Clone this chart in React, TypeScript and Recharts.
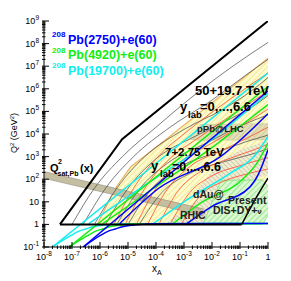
import React from 'react';
import { ComposedChart, Line, Area, XAxis, YAxis } from 'recharts';

type Pt = [number, number];

// all values are log10: [log10 x_A, log10 Q^2]

// 50+19.7 TeV kinematic boundary and y_lab lines
const lhecEdge: Pt[] = [[-7.43, 0], [-5.21, 3.77], [0, 9]];
const lhecFloor: Pt[] = [[-7.43, 0], [-0.94, 0]];
const lhecRight: Pt[] = [[-0.94, 0], [-0.4, 1.23], [0, 2.05]];
const lhecYlab: Pt[][] = [
  [[-7.0, 0], [-6.2, 1.6], [-5.2, 3.0], [-4.0, 4.3], [-2.5, 5.85], [-1.2, 7.05], [0, 8.05]],
  [[-6.6, 0], [-5.8, 1.6], [-4.8, 3.0], [-3.5, 4.3], [-2.0, 5.5], [-0.8, 6.6], [0, 7.3]],
  [[-6.2, 0], [-5.4, 1.6], [-4.4, 3.0], [-3.0, 4.2], [-1.6, 5.1], [-0.6, 5.9], [0, 6.5]],
  [[-5.8, 0], [-5.0, 1.6], [-4.0, 2.9], [-2.6, 3.9], [-1.3, 4.7], [-0.5, 5.25], [0, 5.7]],
  [[-5.4, 0], [-4.6, 1.55], [-3.6, 2.7], [-2.2, 3.6], [-1.0, 4.35], [0, 4.85]],
  [[-5.0, 0], [-4.2, 1.5], [-3.2, 2.5], [-1.8, 3.2], [-0.8, 3.65], [0, 3.95]],
  [[-4.6, 0], [-3.8, 1.4], [-2.8, 2.25], [-1.5, 2.8], [-0.6, 3.1], [0, 3.35]],
];

// 7+2.75 TeV region and y_lab lines
const lhcX = [-6.1, -5.45, -4.9, -4.0, -2.0, -0.94, -0.4, 0];
const lhcLow = [0, 0, 0, 0, 0, 0, 1.23, 2.05];
const lhcHigh = [0, 1.6, 2.55, 3.4, 5.38, 6.42, 6.96, 7.35];
const lhcYlab: Pt[][] = [
  [[-5.5, 0], [-4.8, 1.6], [-4.0, 2.9], [-2.8, 4.2], [-1.4, 5.5], [0, 6.7]],
  [[-5.1, 0], [-4.4, 1.6], [-3.6, 2.8], [-2.4, 3.9], [-1.1, 5.0], [0, 5.9]],
  [[-4.7, 0], [-4.0, 1.6], [-3.2, 2.7], [-2.0, 3.6], [-0.9, 4.4], [0, 5.1]],
  [[-4.3, 0], [-3.6, 1.55], [-2.8, 2.55], [-1.6, 3.3], [-0.7, 3.85], [0, 4.3]],
  [[-3.9, 0], [-3.2, 1.5], [-2.4, 2.35], [-1.3, 2.95], [-0.5, 3.3], [0, 3.55]],
  [[-3.5, 0], [-2.8, 1.4], [-2.0, 2.15], [-1.0, 2.6], [0, 2.95]],
  [[-3.1, 0], [-2.4, 1.3], [-1.6, 1.9], [-0.7, 2.25], [0, 2.45]],
];

// saturation scale band
const qsatX = [-8, -2.3];
const qsatLow = [2.04, 0.38];
const qsatHigh = [2.34, 0.68];

// pPb@LHC, dAu@RHIC and present data regions
const pPbX = [-2.8, -2.4, 0];
const pPbLow = [3.78, 3.72, 3.75];
const pPbHigh = [3.85, 4.42, 4.45];
const pPb2X = [-2.6, -1.8, -1.0, 0];
const pPb2Low = [1.3, 1.5, 1.85, 2.2];
const pPb2High = [1.4, 2.7, 3.3, 3.72];
const dAuX = [-3.6, -2.6, -1.9, -1.5];
const dAuLow = [0, 0, 0, 0.05];
const dAuHigh = [0.1, 1.0, 1.45, 1.6];
const presentX = [-2.32, -1.68, -0.2, 0];
const presentLow = [0, 0, 0, 0.4];
const presentHigh = [0, 1.95, 1.97, 1.7];

// eA configurations: upper limit, low-Q2 acceptance, and two inner lines
const cyanUp: Pt[] = [[-7.7, -1], [0, 6.7]];
const cyanLow: Pt[] = [[-7.7, -1], [-7.05, -0.5], [-6.75, -0.3], [-6.5, -0.2], [-6.25, -0.1], [-6.0, -0.05], [-5.65, 0], [-5.1, 0.03], [0, 0.04]];
const cyanMid: Pt[] = [[-6.4, 0.03], [-4.2, 1.9], [-2.5, 3.3], [0, 5.8]];
const cyanRight: Pt[] = [[-4.1, 0.03], [-3.0, 1.0], [-1.3, 2.3], [-0.5, 3.0], [0, 3.9]];

const greenUp: Pt[] = [[-7.1, -1], [0, 6.1]];
const greenLow: Pt[] = [[-7.1, -1], [-6.45, -0.5], [-6.15, -0.3], [-5.9, -0.2], [-5.65, -0.1], [-5.4, -0.05], [-5.05, 0], [-4.5, 0.03], [0, 0.04]];
const greenMid: Pt[] = [[-5.9, 0.03], [-4.2, 1.5], [-2.0, 3.4], [0, 5.3]];
const greenRight: Pt[] = [[-3.4, 0.03], [-2.4, 0.95], [-0.9, 2.0], [-0.4, 2.7], [0, 3.6]];

const blueUp: Pt[] = [[-6.6, -1], [0, 5.9]];
const blueLow: Pt[] = [[-6.6, -1], [-6.0, -0.5], [-5.7, -0.3], [-5.45, -0.2], [-5.2, -0.1], [-4.95, -0.05], [-4.6, 0], [-4.1, 0.03], [0, 0.04]];
const blueMid: Pt[] = [[-5.3, 0.03], [-3.9, 1.6], [-1.7, 3.0], [0, 4.9]];
const blueRight: Pt[] = [[-2.9, 0.03], [-2.0, 0.8], [-0.65, 1.65], [-0.35, 2.2], [0, 3.3]];

const xMajor = [-8, -7, -6, -5, -4, -3, -2, -1, 0];
const yMajor = [-1, 0, 1, 2, 3, 4, 5, 6, 7, 8, 9];

const BLUE = '#0000ff';
const GREEN = '#11ee11';
const CYAN = '#11eeee';
const FONT = '"Liberation Sans", Arial, Helvetica, sans-serif';

const minorTicks = (from: number, to: number) => {
  const out: number[] = [];
  for (let n = from; n < to; n++) for (let k = 2; k <= 9; k++) out.push(n + Math.log10(k));
  return out;
};
const xTicks = [...xMajor, ...minorTicks(-8, 0)].sort((a, b) => a - b);
const yTicks = [...yMajor, ...minorTicks(-1, 9)].sort((a, b) => a - b);

const isMajor = (v: number) => Math.abs(v - Math.round(v)) < 1e-6;
const pts = (p: Pt[]) => p.map(([x, y]) => ({ x, y }));
const band = (xs: number[], lo: number[], hi: number[]) => xs.map((x, i) => ({ x, r: [lo[i], hi[i]] }));

const powLabel = (v: number, x: number, y: number, anchor: string) => {
  const n = Math.round(v);
  if (n === 0 || n === 1) {
    return <text x={x} y={y} textAnchor={anchor} fontSize={9} fill="#000">{n === 0 ? '1' : '10'}</text>;
  }
  return (
    <text x={x} y={y} textAnchor={anchor} fontSize={9} fill="#000">
      10<tspan dy={-4} fontSize={6.5}>{n}</tspan>
    </text>
  );
};

const BottomTick = ({ x, y, payload }: any) => {
  const major = isMajor(payload.value);
  return (
    <g>
      <line x1={x} x2={x} y1={y} y2={y - (major ? 7 : 3.5)} stroke="#000" strokeWidth={1} />
      {major && powLabel(payload.value, x, y + 10.5, 'middle')}
    </g>
  );
};
const TopTick = ({ x, y, payload }: any) => (
  <line x1={x} x2={x} y1={y} y2={y + (isMajor(payload.value) ? 7 : 3.5)} stroke="#000" strokeWidth={1} />
);
const LeftTick = ({ x, y, payload }: any) => {
  const major = isMajor(payload.value);
  return (
    <g>
      <line x1={x} x2={x + (major ? 7 : 3.5)} y1={y} y2={y} stroke="#000" strokeWidth={1} />
      {major && powLabel(payload.value, x - 3, y + 3, 'end')}
    </g>
  );
};
const RightTick = ({ x, y, payload }: any) => (
  <line x1={x} x2={x - (isMajor(payload.value) ? 7 : 3.5)} y1={y} y2={y} stroke="#000" strokeWidth={1} />
);

const curve = (key: string, p: Pt[], stroke: string, width: number, type: any = 'monotone') => (
  <Line
    key={key}
    data={pts(p)}
    dataKey="y"
    type={type}
    stroke={stroke}
    strokeWidth={width}
    dot={false}
    activeDot={false}
    legendType="none"
    isAnimationActive={false}
  />
);

const region = (key: string, xs: number[], lo: number[], hi: number[], fill: string, stroke: string, width = 1) => (
  <Area
    key={key}
    data={band(xs, lo, hi)}
    dataKey="r"
    type="linear"
    fill={fill}
    fillOpacity={1}
    stroke={stroke}
    strokeWidth={width}
    dot={false}
    activeDot={false}
    legendType="none"
    isAnimationActive={false}
  />
);

const Beam = ({ y, color, n, rest }: { y: number; color: string; n: string; rest: string }) => (
  <g fontWeight="bold" fill={color}>
    <text x={52} y={y - 6.5} fontSize={8}>{n}</text>
    <text x={68} y={y} fontSize={12.5}>{rest}</text>
  </g>
);

export default function App() {
  return (
    <div style={{ position: 'absolute', left: 0, top: 0, width: 291, height: 281, background: '#fff', fontFamily: FONT }}>
      <svg width={0} height={0} style={{ position: 'absolute' }}>
        <defs>
          <pattern id="hYellow" width="4" height="4" patternUnits="userSpaceOnUse" patternTransform="rotate(45)">
            <rect width="4" height="4" fill="#fdfbcf" />
            <line x1="0" y1="0" x2="0" y2="4" stroke="#ebe06c" strokeWidth="1.2" />
          </pattern>
          <pattern id="hGray" width="3.5" height="3.5" patternUnits="userSpaceOnUse" patternTransform="rotate(-45)">
            <rect width="3.5" height="3.5" fill="#efeccf" />
            <line x1="0" y1="0" x2="0" y2="3.5" stroke="#b5b195" strokeWidth="1" />
          </pattern>
          <pattern id="hPPb" width="3.5" height="3.5" patternUnits="userSpaceOnUse" patternTransform="rotate(45)">
            <rect width="3.5" height="3.5" fill="#e4dfb4" />
            <line x1="0" y1="0" x2="0" y2="3.5" stroke="#bdb78e" strokeWidth="1" />
          </pattern>
          <pattern id="hGreen" width="4" height="4" patternUnits="userSpaceOnUse" patternTransform="rotate(45)">
            <rect width="4" height="4" fill="#dcf7d2" />
            <line x1="0" y1="0" x2="0" y2="4" stroke="#6fe06a" strokeWidth="1.2" />
          </pattern>
        </defs>
      </svg>
      <ComposedChart width={291} height={281} margin={{ top: 21, right: 23, bottom: 0, left: 0 }}>
        <XAxis
          dataKey="x"
          type="number"
          domain={[-8, 0]}
          ticks={xTicks}
          interval={0}
          allowDataOverflow
          height={34}
          tickSize={0}
          tickLine={false}
          axisLine={{ stroke: '#000' }}
          tick={(p: any) => <BottomTick {...p} />}
        />
        <XAxis
          xAxisId="top"
          orientation="top"
          type="number"
          domain={[-8, 0]}
          ticks={xTicks}
          interval={0}
          allowDataOverflow
          height={0}
          tickSize={0}
          tickLine={false}
          axisLine={{ stroke: '#000' }}
          tick={(p: any) => <TopTick {...p} />}
        />
        <YAxis
          type="number"
          domain={[-1, 9]}
          ticks={yTicks}
          interval={0}
          allowDataOverflow
          width={44}
          tickSize={0}
          tickLine={false}
          axisLine={{ stroke: '#000' }}
          tick={(p: any) => <LeftTick {...p} />}
        />
        <YAxis
          yAxisId="right"
          orientation="right"
          type="number"
          domain={[-1, 9]}
          ticks={yTicks}
          interval={0}
          allowDataOverflow
          width={0}
          tickSize={0}
          tickLine={false}
          axisLine={{ stroke: '#000' }}
          tick={(p: any) => <RightTick {...p} />}
        />

        {region('lhc', lhcX, lhcLow, lhcHigh, 'url(#hYellow)', '#f2b25c', 1.2)}
        {region('ppb2', pPb2X, pPb2Low, pPb2High, 'url(#hGray)', 'none')}
        {region('ppb', pPbX, pPbLow, pPbHigh, 'url(#hPPb)', '#cfc99c', 0.8)}
        {region('dau', dAuX, dAuLow, dAuHigh, 'url(#hGray)', 'none')}
        {region('qsat', qsatX, qsatLow, qsatHigh, '#c4bfa0', '#8f8c78', 0.6)}
        {region('present', presentX, presentLow, presentHigh, 'url(#hGreen)', '#8ee58a', 1)}

        {lhecYlab.map((l, i) => curve(`lhec${i}`, l, '#444', 0.7))}
        {lhcYlab.map((l, i) => curve(`lhc${i}`, l, '#ff4a2a', 0.8))}

        {curve('cUp', cyanUp, CYAN, 1.5, 'linear')}
        {curve('cLow', cyanLow, CYAN, 1.5)}
        {curve('cMid', cyanMid, CYAN, 1.5)}
        {curve('cRight', cyanRight, CYAN, 1.5)}
        {curve('gUp', greenUp, GREEN, 1.5, 'linear')}
        {curve('gLow', greenLow, GREEN, 1.5)}
        {curve('gMid', greenMid, GREEN, 1.5)}
        {curve('gRight', greenRight, GREEN, 1.5)}
        {curve('bUp', blueUp, BLUE, 1.5, 'linear')}
        {curve('bLow', blueLow, BLUE, 1.5)}
        {curve('bMid', blueMid, BLUE, 1.5)}
        {curve('bRight', blueRight, BLUE, 1.5)}

        {curve('edge', lhecEdge, '#000', 2, 'linear')}
        {curve('floor', lhecFloor, '#000', 2, 'linear')}
        {curve('right', lhecRight, '#000', 1.5)}
      </ComposedChart>

      <svg width={291} height={281} style={{ position: 'absolute', left: 0, top: 0, pointerEvents: 'none' }}>
        <Beam y={43.5} color={BLUE} n="208" rest="Pb(2750)+e(60)" />
        <Beam y={59} color={GREEN} n="208" rest="Pb(4920)+e(60)" />
        <Beam y={74.5} color={CYAN} n="208" rest="Pb(19700)+e(60)" />

        <g fontWeight="bold" fill="#000">
          <text x={195} y={95} fontSize={13}>50+19.7 TeV</text>
          <text x={180} y={111} fontSize={13}>y</text>
          <text x={188} y={118} fontSize={9.5}>lab</text>
          <text x={200} y={111} fontSize={13}>=0,...,6.6</text>

          <text x={165} y={156} fontSize={11.5}>7+2.75 TeV</text>
          <text x={151} y={170} fontSize={13}>y</text>
          <text x={160} y={177} fontSize={9.5}>lab</text>
          <text x={172} y={171} fontSize={12.5}>=0,...,6.6</text>

          <text x={50} y={172} fontSize={11}>Q</text>
          <text x={58} y={164} fontSize={7}>2</text>
          <text x={57.5} y={176} fontSize={7}>sat,Pb</text>
          <text x={80} y={172} fontSize={11}>(x)</text>
        </g>
        <g fontWeight="bold" fill="#222">
          <text x={197} y={132} fontSize={9.5}>pPb@LHC</text>
          <text x={193} y={198} fontSize={10.5}>dAu@</text>
          <text x={180} y={218.5} fontSize={10.5}>RHIC</text>
          <text x={228} y={203.5} fontSize={10.5}>Present</text>
          <text x={213} y={214} fontSize={10.5}>
            DIS+DY+<tspan fontSize={8}>ν</tspan>
          </text>
        </g>

        <text transform="translate(17,133) rotate(-90)" textAnchor="middle" fontSize={9} fill="#000">
          Q<tspan dy={-3.5} fontSize={6}>2</tspan>
          <tspan dy={3.5}> (GeV</tspan>
          <tspan dy={-3.5} fontSize={6}>2</tspan>
          <tspan dy={3.5}>)</tspan>
        </text>
        <text x={152} y={272} fontSize={10} fill="#000">
          x<tspan dy={2.5} fontSize={7}>A</tspan>
        </text>
      </svg>
    </div>
  );
}
